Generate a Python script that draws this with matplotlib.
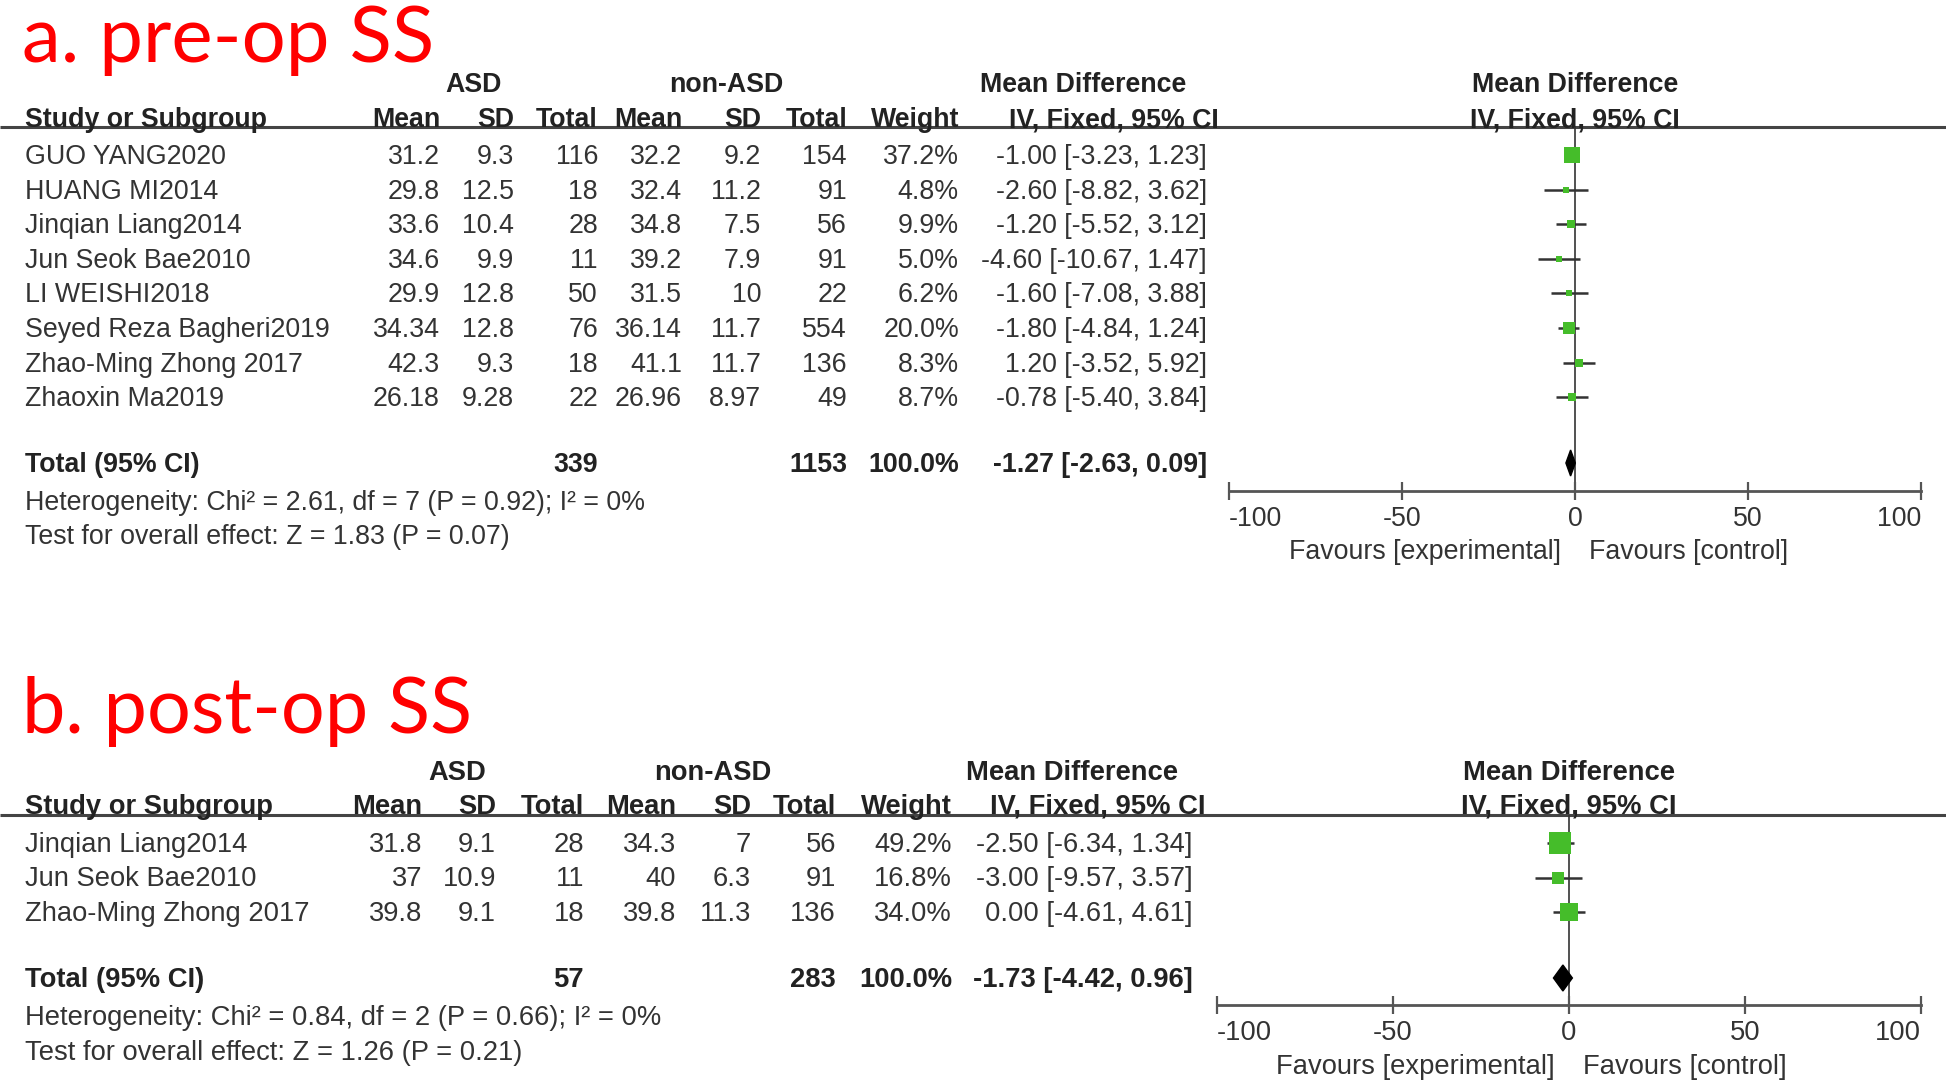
import matplotlib
matplotlib.use('Agg')
import matplotlib.pyplot as plt
import numpy as np

plt.rcParams['font.family'] = ['Liberation Sans', 'DejaVu Sans']
plt.rcParams['axes.unicode_minus'] = False

# ---------------- data ----------------
studies_a = ["GUO YANG2020", "HUANG MI2014", "Jinqian Liang2014", "Jun Seok Bae2010",
             "LI WEISHI2018", "Seyed Reza Bagheri2019", "Zhao-Ming Zhong 2017", "Zhaoxin Ma2019"]
asd_mean_a = [31.2, 29.8, 33.6, 34.6, 29.9, 34.34, 42.3, 26.18]
asd_sd_a = [9.3, 12.5, 10.4, 9.9, 12.8, 12.8, 9.3, 9.28]
asd_n_a = [116, 18, 28, 11, 50, 76, 18, 22]
non_mean_a = [32.2, 32.4, 34.8, 39.2, 31.5, 36.14, 41.1, 26.96]
non_sd_a = [9.2, 11.2, 7.5, 7.9, 10, 11.7, 11.7, 8.97]
non_n_a = [154, 91, 56, 91, 22, 554, 136, 49]
weight_a = [37.2, 4.8, 9.9, 5.0, 6.2, 20.0, 8.3, 8.7]
md_a = [-1.00, -2.60, -1.20, -4.60, -1.60, -1.80, 1.20, -0.78]
lo_a = [-3.23, -8.82, -5.52, -10.67, -7.08, -4.84, -3.52, -5.40]
hi_a = [1.23, 3.62, 3.12, 1.47, 3.88, 1.24, 5.92, 3.84]
total_weight_a = 100.0
pooled_a = (-1.27, -2.63, 0.09)
het_a = "Heterogeneity: Chi\u00b2 = 2.61, df = 7 (P = 0.92); I\u00b2 = 0%"
test_a = "Test for overall effect: Z = 1.83 (P = 0.07)"

studies_b = ["Jinqian Liang2014", "Jun Seok Bae2010", "Zhao-Ming Zhong 2017"]
asd_mean_b = [31.8, 37, 39.8]
asd_sd_b = [9.1, 10.9, 9.1]
asd_n_b = [28, 11, 18]
non_mean_b = [34.3, 40, 39.8]
non_sd_b = [7, 6.3, 11.3]
non_n_b = [56, 91, 136]
weight_b = [49.2, 16.8, 34.0]
md_b = [-2.50, -3.00, 0.00]
lo_b = [-6.34, -9.57, -4.61]
hi_b = [1.34, 3.57, 4.61]
total_weight_b = 100.0
pooled_b = (-1.73, -4.42, 0.96)
het_b = "Heterogeneity: Chi\u00b2 = 0.84, df = 2 (P = 0.66); I\u00b2 = 0%"
test_b = "Test for overall effect: Z = 1.26 (P = 0.21)"

x_ticks = [-100, -50, 0, 50, 100]

# ---------------- layout ----------------
W, H = 1946, 1083
TXT = '#333333'
BOLD = '#222222'
GREEN = '#45bd2a'
LINE = '#444444'

fig = plt.figure(figsize=(W / 100, H / 100), dpi=100)
bg = fig.add_axes([0, 0, 1, 1])
bg.set_xlim(0, W)
bg.set_ylim(H, 0)
bg.axis('off')

BOFF = 9  # baseline offset from visual centre


def fmt(v):
    return f"{v:g}"


def panel(title, L, studies, am, asd_sd, an, nm, nsd, nn, wt, tw, md, lo, hi, pooled,
          het, test, k):
    FS = L['fs']

    def txt(x, y, s, ha='left', bold=False):
        return bg.text(x, y + BOFF, s, ha=ha, va='baseline', fontsize=FS,
                       fontweight='bold' if bold else 'normal',
                       color=BOLD if bold else TXT)

    c = L['cols']
    # title
    t = bg.text(22, L['title_base'], title, fontsize=58, color='#ff0000', family='Lato',
                va='baseline', ha='left')
    fig.canvas.draw()
    wpx = t.get_window_extent().width
    t.set_fontsize(58 * L['title_w'] / wpx)

    # group headers
    txt(L['asd_x'], L['group_y'], "ASD", ha='center', bold=True)
    txt(L['non_x'], L['group_y'], "non-ASD", ha='center', bold=True)
    txt(L['md_x'], L['group_y'], "Mean Difference", ha='center', bold=True)
    fz = (L['fx0'] + L['fx1']) / 2
    txt(fz, L['group_y'], "Mean Difference", ha='center', bold=True)

    hy = L['head_y']
    txt(c['name'], hy, "Study or Subgroup", bold=True)
    for key, lab in [('m1', 'Mean'), ('s1', 'SD'), ('n1', 'Total'), ('m2', 'Mean'),
                     ('s2', 'SD'), ('n2', 'Total'), ('w', 'Weight')]:
        txt(c[key], hy, lab, ha='right', bold=True)
    txt(c['ci'] + 12, hy, "IV, Fixed, 95% CI", ha='right', bold=True)
    txt(fz, hy, "IV, Fixed, 95% CI", ha='center', bold=True)
    bg.plot([0, W], [L['line_y'], L['line_y']], color=LINE, lw=2.2, solid_capstyle='butt')

    row_y = [L['row0'] + i * L['step'] for i in range(len(studies))]
    for i, y in enumerate(row_y):
        txt(c['name'], y, studies[i])
        txt(c['m1'], y, fmt(am[i]), ha='right')
        txt(c['s1'], y, fmt(asd_sd[i]), ha='right')
        txt(c['n1'], y, fmt(an[i]), ha='right')
        txt(c['m2'], y, fmt(nm[i]), ha='right')
        txt(c['s2'], y, fmt(nsd[i]), ha='right')
        txt(c['n2'], y, fmt(nn[i]), ha='right')
        txt(c['w'], y, f"{wt[i]:.1f}%", ha='right')
        txt(c['ci'], y, f"{md[i]:.2f} [{lo[i]:.2f}, {hi[i]:.2f}]", ha='right')

    ty = L['total_y']
    txt(c['name'], ty, "Total (95% CI)", bold=True)
    txt(c['n1'], ty, str(sum(an)), ha='right', bold=True)
    txt(c['n2'], ty, str(sum(nn)), ha='right', bold=True)
    txt(c['w'], ty, f"{tw:.1f}%", ha='right', bold=True)
    txt(c['ci'], ty, f"{pooled[0]:.2f} [{pooled[1]:.2f}, {pooled[2]:.2f}]", ha='right', bold=True)
    txt(c['name'], L['het_y'], het)
    txt(c['name'], L['test_y'], test)

    # forest plot
    ax = fig.add_axes([L['fx0'] / W, 1 - L['ax_y'] / H, (L['fx1'] - L['fx0']) / W,
                       (L['ax_y'] - L['line_y']) / H])
    ax.patch.set_visible(False)
    step = L['step']
    ax.set_xlim(-100, 100)
    ax.set_ylim((L['ax_y'] - L['row0']) / step, (L['line_y'] - L['row0']) / step)
    for s in ['top', 'left', 'right']:
        ax.spines[s].set_visible(False)
    ax.spines['bottom'].set_color('#555555')
    ax.spines['bottom'].set_linewidth(2.0)
    ax.set_xticks(x_ticks)
    ax.set_xticklabels([str(v) for v in x_ticks])
    ax.set_yticks([])
    ax.tick_params(axis='x', direction='inout', length=13, width=1.6, colors='#555555',
                   labelcolor=TXT, labelsize=FS, pad=4)
    labs = ax.get_xticklabels()
    labs[0].set_horizontalalignment('left')
    labs[-1].set_horizontalalignment('right')
    ax.axvline(0, color='#333333', lw=1.2, zorder=1)
    idx = np.arange(len(studies))
    ax.hlines(idx, lo, hi, color='#333333', lw=1.8, zorder=2)
    for i in idx:
        side_px = k * np.sqrt(wt[i])
        ax.plot(md[i], i, marker='s', ms=side_px * 0.72, color=GREEN, mec=GREEN, mew=0,
                zorder=3, ls='none')
    tidx = (L['total_y'] - L['row0']) / step
    hh = 13 / step
    ax.fill([pooled[1], pooled[0], pooled[2], pooled[0]],
            [tidx, tidx - hh, tidx, tidx + hh], color='black', zorder=4)

    txt(fz - 14, L['fav_y'], "Favours [experimental]", ha='right')
    txt(fz + 14, L['fav_y'], "Favours [control]", ha='left')


LA = dict(title_base=62, title_w=412, fs=19.3,
          cols=dict(name=25, m1=440, s1=514, n1=598, m2=682, s2=761, n2=847, w=959, ci=1207),
          group_y=83, head_y=118, line_y=127, row0=155, step=34.6, total_y=463,
          het_y=501, test_y=535, ax_y=491, fx0=1229, fx1=1921,
          asd_x=474, non_x=726, md_x=1083, fav_y=550)
LB = dict(title_base=733, title_w=450, fs=19.7,
          cols=dict(name=25, m1=422, s1=496, n1=584, m2=676, s2=751, n2=836, w=952, ci=1193),
          group_y=771, head_y=805, line_y=815, row0=843, step=34.5, total_y=978,
          het_y=1016, test_y=1051, ax_y=1005, fx0=1217, fx1=1921,
          asd_x=457, non_x=713, md_x=1072, fav_y=1065)

panel("a. pre-op SS", LA, studies_a, asd_mean_a, asd_sd_a, asd_n_a, non_mean_a, non_sd_a,
      non_n_a, weight_a, total_weight_a, md_a, lo_a, hi_a, pooled_a, het_a, test_a, 2.7)
panel("b. post-op SS", LB, studies_b, asd_mean_b, asd_sd_b, asd_n_b, non_mean_b, non_sd_b,
      non_n_b, weight_b, total_weight_b, md_b, lo_b, hi_b, pooled_b, het_b, test_b, 3.1)

fig.savefig('out.png', dpi=100)
